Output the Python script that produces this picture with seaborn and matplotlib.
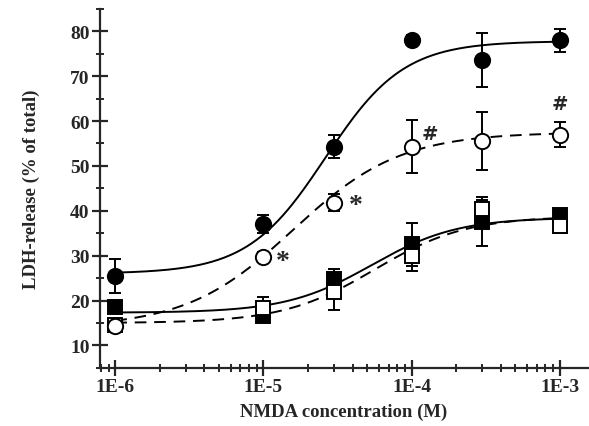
import numpy as np
import pandas as pd
import matplotlib
matplotlib.use("Agg")
import matplotlib.pyplot as plt
import seaborn as sns
from matplotlib.ticker import FixedLocator, FixedFormatter, NullFormatter

# ---- data ----
conc = [1e-6, 1e-5, 3e-5, 1e-4, 3e-4, 1e-3]
filled_circle = [25.5, 37.0, 54.3, 78.1, 73.6, 78.0]
filled_circle_err = [3.8, 2.0, 2.6, 1.0, 6.1, 2.6]
open_circle = [14.4, 29.8, 41.8, 54.3, 55.5, 57.0]
open_circle_err = [1.5, 1.0, 1.9, 5.9, 6.5, 2.7]
filled_square = [18.6, 16.6, 24.9, 32.5, 37.6, 39.0]
filled_square_err = [1.0, 1.0, 2.1, 4.7, 5.4, 1.5]
open_square = [14.5, 18.4, 22.0, 30.0, 40.5, 36.6]
open_square_err = [1.2, 2.4, 4.0, 3.4, 1.8, 1.6]

# sigmoid fit parameters: bottom, top, logEC50, hill
fit_filled_circle = (26.0, 77.8, -4.58, 1.65)
fit_open_circle = (14.0, 57.5, -4.80, 1.2)
fit_filled_square = (17.3, 38.5, -4.27, 1.5)
fit_open_square = (15.0, 38.8, -4.25, 1.4)

tick_values = [1e-6, 1e-5, 1e-4, 1e-3]
tick_labels = ["1E-6", "1E-5", "1E-4", "1E-3"]

sns.set_style("ticks")
plt.rcParams['font.family'] = ['Liberation Serif', 'DejaVu Serif']
plt.rcParams['font.weight'] = 'bold'

fig = plt.figure(figsize=(5.89, 4.27), dpi=100)
ax = fig.add_axes([0.170, 0.136, 0.828, 0.841])
ax.set_xscale("log")

def hill(x, p):
    b, t, ec, h = p
    return b + (t - b) / (1 + 10 ** ((ec - np.log10(x)) * h))

xs = np.logspace(-6, -3, 300)
curves = pd.DataFrame({
    "x": np.concatenate([xs] * 4),
    "y": np.concatenate([hill(xs, fit_filled_circle), hill(xs, fit_open_circle),
                         hill(xs, fit_filled_square), hill(xs, fit_open_square)]),
    "grp": ["fc"] * 300 + ["oc"] * 300 + ["fs"] * 300 + ["os"] * 300,
})
for g, dashed in [("fc", False), ("oc", True), ("fs", False), ("os", True)]:
    d = curves[curves.grp == g]
    sns.lineplot(data=d, x="x", y="y", ax=ax, color="black", lw=1.4, legend=False)
    if dashed:
        ax.lines[-1].set_linestyle((0, (6, 4)))

series = [
    (filled_square, filled_square_err, "s", "black", 9.5),
    (open_square, open_square_err, "s", "white", 9.5),
    (filled_circle, filled_circle_err, "o", "black", 11),
    (open_circle, open_circle_err, "o", "white", 11),
]
for vals, errs, m, fc, ms in series:
    ax.errorbar(conc, vals, yerr=errs, fmt="none", ecolor="black",
                elinewidth=1.4, capsize=4, capthick=1.4, zorder=3)
    ax.plot(conc, vals, linestyle="none", marker=m, markersize=ms,
            markerfacecolor=fc, markeredgecolor="black", markeredgewidth=1.4, zorder=4)

# significance marks
ax.text(1.36e-5, 28.6, "*", fontsize=20, ha="center", va="center", fontweight="bold")
ax.text(4.2e-5, 41.1, "*", fontsize=20, ha="center", va="center", fontweight="bold")
ax.text(1.34e-4, 57.2, "#", fontsize=14, ha="center", va="center", fontweight="bold",
        family="DejaVu Sans")
ax.text(1.0e-3, 63.8, "#", fontsize=14, ha="center", va="center", fontweight="bold",
        family="DejaVu Sans")

ax.set_xlim(7.9e-7, 1.55e-3)
ax.set_ylim(5, 85)
ax.xaxis.set_major_locator(FixedLocator(tick_values))
ax.xaxis.set_major_formatter(FixedFormatter(tick_labels))
minor = [k * 10.0 ** e for e in range(-7, -2) for k in range(2, 10)]
ax.xaxis.set_minor_locator(FixedLocator(minor))
ax.xaxis.set_minor_formatter(NullFormatter())
ax.set_yticks(range(10, 90, 10))
ax.set_yticks(range(5, 90, 10), minor=True)

sns.despine(ax=ax)
for s in ["left", "bottom"]:
    ax.spines[s].set_linewidth(1.6)
ax.tick_params(which="major", direction="inout", length=11, width=1.6,
               labelsize=14, pad=2)
ax.tick_params(which="minor", direction="inout", length=6, width=1.4)
for lab in ax.get_xticklabels() + ax.get_yticklabels():
    lab.set_fontweight("bold")

ax.set_xlabel("NMDA concentration (M)", fontsize=13.5, fontweight="bold", labelpad=5)
ax.set_ylabel("LDH-release (% of total)", fontsize=13.5, fontweight="bold", labelpad=22)

fig.savefig("out.png", dpi=100)
